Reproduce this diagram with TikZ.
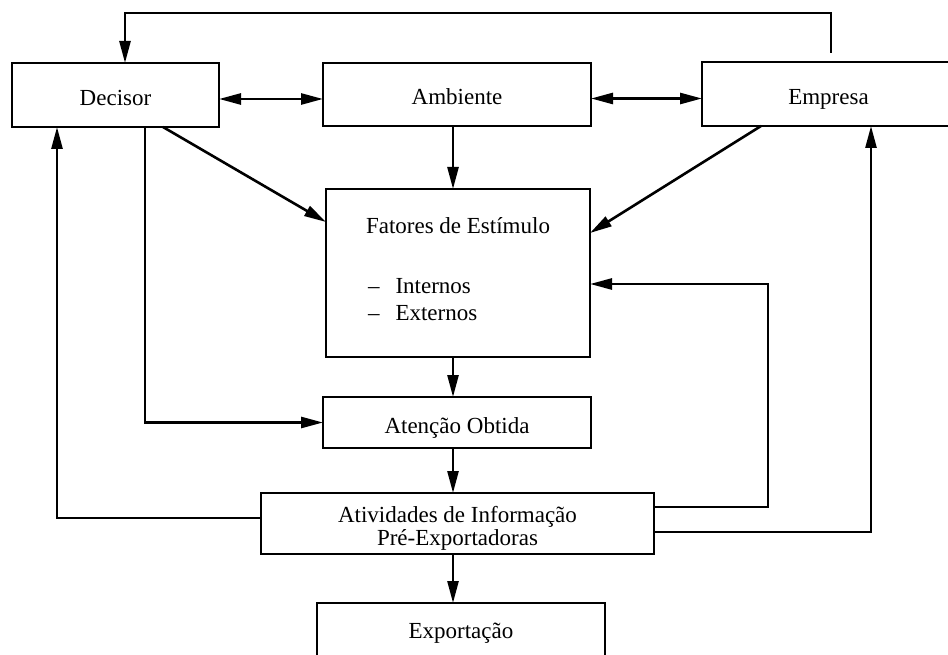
\documentclass[tikz,border=0pt]{standalone}
\usepackage{fontspec}
\setmainfont{Liberation Serif}
\usetikzlibrary{arrows.meta}
\begin{document}
\begin{tikzpicture}[x=1pt,y=-1pt,
  box/.style={draw, line width=2.8pt, inner sep=0pt, outer sep=0pt,
    font=\fontsize{23}{23}\selectfont, text height=21pt, text depth=0pt},
  conn/.style={line width=2.6pt, line join=miter},
  arr/.style={conn, -{Triangle[length=22pt,width=11pt]}},
  darr/.style={conn, {Triangle[length=22pt,width=11pt]}-{Triangle[length=22pt,width=11pt]}}]
\clip (0,0) rectangle (948,655);
\fill[white] (0,0) rectangle (948,655);

% boxes
\node[box, minimum width=207pt, minimum height=64pt] (decisor) at (115.5,95) {Decisor};
\node[box, minimum width=268pt, minimum height=63pt] (ambiente) at (457,94.5) {Ambiente};
\node[box, minimum width=253pt, minimum height=64pt] (empresa) at (828.5,94) {Empresa};
\node[box, minimum width=264pt, minimum height=168pt, text height=0pt, text depth=78pt] (fatores) at (458,273)
  {\begin{tabular}[t]{@{}l@{}}Fatores de Estímulo\\[36pt]
   \hspace{2pt}–\hspace{16pt}Internos\\[5pt]
   \hspace{2pt}–\hspace{16pt}Externos\end{tabular}};
\node[box, minimum width=268pt, minimum height=51pt] (atencao) at (457,422.5) {Atenção Obtida};
\node[box, minimum width=393pt, minimum height=61pt, text height=0pt, text depth=3pt] (atividades) at (457.5,523.5)
  {\begin{tabular}[t]{@{}c@{}}Atividades de Informação\\Pré-Exportadoras\end{tabular}};
\node[box, minimum width=288pt, minimum height=77pt, text height=0pt, text depth=7pt] (exportacao) at (461,641.5) {Exportação};

% connectors
\draw[arr] ([xshift=2.5pt,yshift=9pt]empresa.north) -- ++(0,-40) -| ([xshift=9.5pt]decisor.north);
\draw[darr] ([yshift=-4pt]decisor.east) -- ([yshift=-4pt]decisor.east -| ambiente.west);
\draw[darr] ([yshift=-4pt]ambiente.east) -- ([yshift=-4pt]ambiente.east -| empresa.west);
\draw[arr] ([xshift=-4pt]ambiente.south) -- ([xshift=-4pt]ambiente.south |- fatores.north);
\draw[arr] ([xshift=47.5pt]decisor.south) -- ([yshift=51pt]fatores.west);
\draw[arr] ([xshift=-67.5pt]empresa.south) -- ([yshift=40pt]fatores.east);
\draw[arr] ([xshift=29.5pt]decisor.south) |- (atencao.west);
\draw[arr] ([xshift=-5pt]fatores.south) -- ([xshift=-5pt]fatores.south |- atencao.north);
\draw[arr] ([xshift=-4pt]atencao.south) -- ([xshift=-4pt]atencao.south |- atividades.north);
\draw[arr] ([yshift=5.5pt]atividades.west) -| ([xshift=-58.5pt]decisor.south);
\draw[arr] ([yshift=16.5pt]atividades.east) -- ++(114,0) |- ([yshift=-11pt]fatores.east);
\draw[arr] ([yshift=-8.5pt]atividades.east) -| ([xshift=42.5pt]empresa.south);
\draw[arr] ([xshift=-4.5pt]atividades.south) -- ([xshift=-4.5pt]atividades.south |- exportacao.north);
\end{tikzpicture}
\end{document}
